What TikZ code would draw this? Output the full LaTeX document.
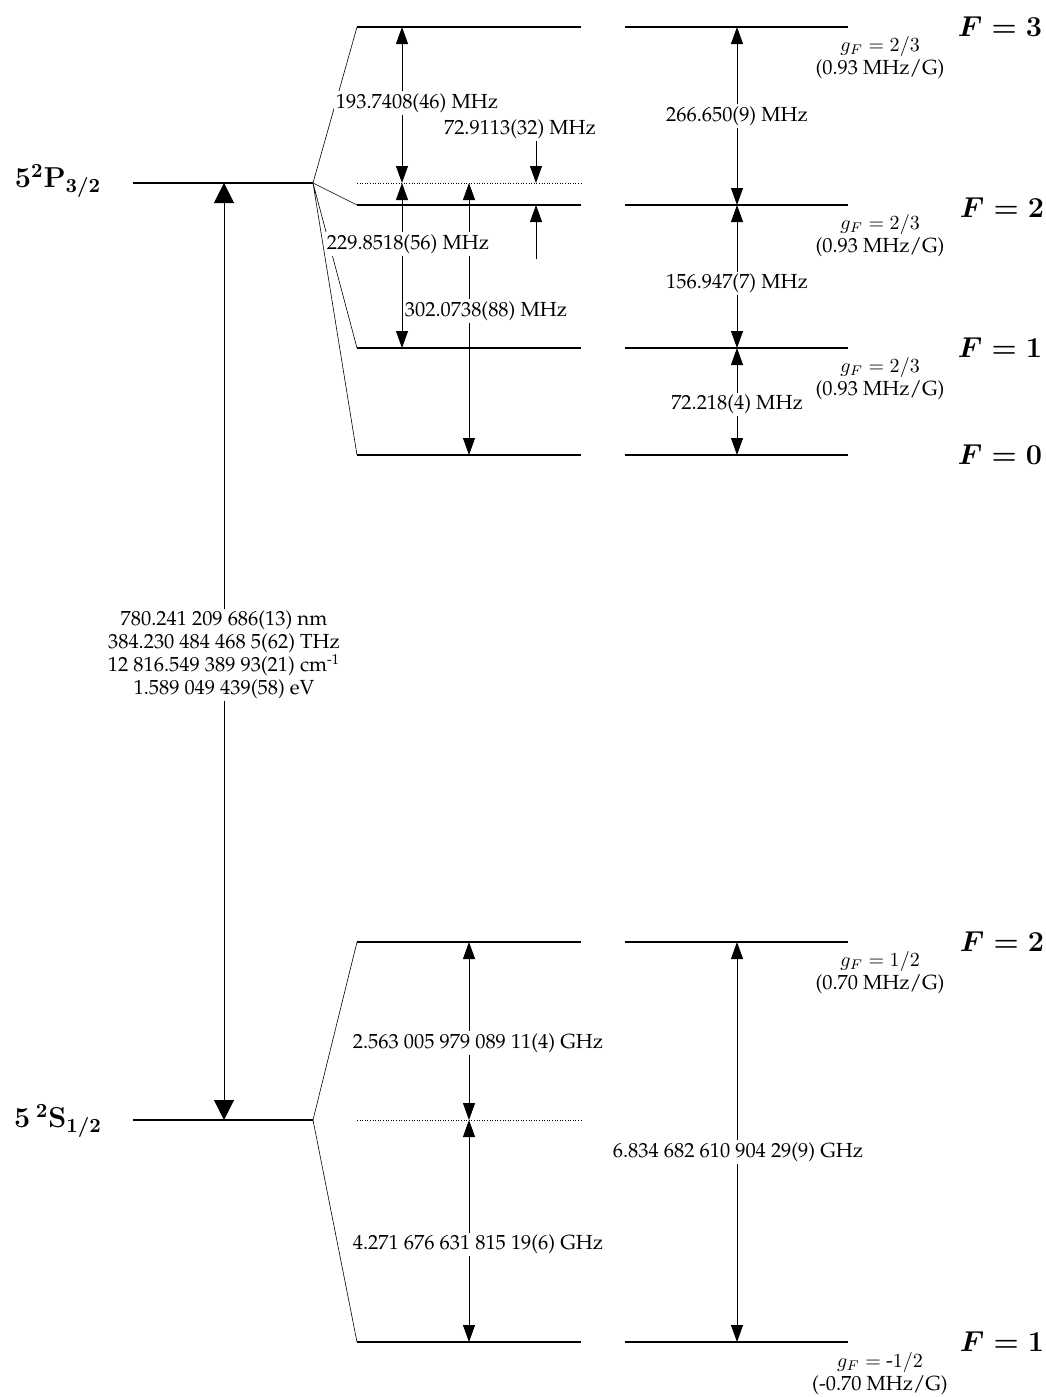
\documentclass[tikz,border=0pt]{standalone}
\usepackage[T1,TU]{fontenc}
\usetikzlibrary{arrows.meta}
\newcommand\palfont{\fontencoding{T1}\fontfamily{ppl}\fontsize{10.2}{11.5}\selectfont}
\tikzset{
  level/.style={line width=1pt},
  fan/.style={line width=0.3pt},
  cog/.style={densely dotted, line width=0.3pt},
  gap/.style={line width=0.45pt, {Triangle[length=8.5pt,width=6pt]}-{Triangle[length=8.5pt,width=6pt]}},
  push/.style={line width=0.45pt, -{Triangle[length=8.5pt,width=6pt]}},
  optical/.style={line width=0.5pt, {Triangle[length=10pt,width=10pt]}-{Triangle[length=10pt,width=10pt]}},
  val/.style={font=\palfont, fill=white, inner sep=1pt},
  gfac/.style={font=\palfont, align=center, inner sep=0pt},
  flab/.style={font=\Large\bfseries\boldmath},
  term/.style={font=\Large\bfseries\boldmath}
}
\begin{document}
\begin{tikzpicture}[x=0.5pt, y=-0.5pt]
\useasboundingbox (0,0) rectangle (1045,1397);
% colonne delle frecce
\coordinate (c0) at (224,0);
\coordinate (c1) at (402,0);
\coordinate (c2) at (469,0);
\coordinate (c3) at (536,0);
\coordinate (c4) at (737,0);

% livello 5P_{3/2}
\coordinate (P0) at (133,183);
\coordinate (Pf) at (313,183);
\draw[level] (P0) -- (Pf);
\node[term] (Pterm) at (58,181) {$5^2\mathrm{P}_{3/2}$};
\coordinate (Pc1) at (357,183);
\coordinate (Pc2) at (581,183);
\draw[cog] (Pc1) -- (Pc2); % baricentro

% struttura iperfine 5P_{3/2}
\coordinate (PL3) at (357,27);  \coordinate (PM3) at (581,27);
\coordinate (PR3) at (625,27);  \coordinate (PE3) at (848,27);
\coordinate (PL2) at (357,205); \coordinate (PM2) at (581,205);
\coordinate (PR2) at (625,205); \coordinate (PE2) at (848,205);
\coordinate (PL1) at (357,348); \coordinate (PM1) at (581,348);
\coordinate (PR1) at (625,348); \coordinate (PE1) at (848,348);
\coordinate (PL0) at (357,455); \coordinate (PM0) at (581,455);
\coordinate (PR0) at (625,455); \coordinate (PE0) at (848,455);
\draw[level] (PL3) -- (PM3); \draw[level] (PR3) -- (PE3);
\draw[level] (PL2) -- (PM2); \draw[level] (PR2) -- (PE2);
\draw[level] (PL1) -- (PM1); \draw[level] (PR1) -- (PE1);
\draw[level] (PL0) -- (PM0); \draw[level] (PR0) -- (PE0);
\draw[fan] (PL3) -- (Pf) -- (PL2);
\draw[fan] (PL1) -- (Pf) -- (PL0);

% separazioni dal baricentro
\draw[gap] (c1 |- PL3) -- (c1 |- Pc1);
\draw[gap] (c1 |- Pc1) -- (c1 |- PL1);
\draw[gap] (c2 |- Pc1) -- (c2 |- PL0);
\coordinate (t1) at (536,141);
\coordinate (t2) at (536,259);
\draw[push] (t1) -- (c3 |- Pc1);
\draw[push] (t2) -- (c3 |- PL2);
\node[val] (v1) at (417,103) {193.7408(46) MHz};
\node[val] (v2) at (520,129) {72.9113(32) MHz};
\node[val] (v3) at (408,244) {229.8518(56) MHz};
\node[val] (v4) at (486,311) {302.0738(88) MHz};

% separazioni iperfini
\draw[gap] (c4 |- PR3) -- (c4 |- PR2) node[val, pos=0.5] (v5) {266.650(9) MHz};
\draw[gap] (c4 |- PR2) -- (c4 |- PR1) node[val, pos=0.55] (v6) {156.947(7) MHz};
\draw[gap] (c4 |- PR1) -- (c4 |- PR0) node[val, pos=0.53] (v7) {72.218(4) MHz};

\node[gfac] (g3) at (880,58) {$g_F = 2/3$\\(0.93 MHz/G)};
\node[gfac] (g2) at (880,236) {$g_F = 2/3$\\(0.93 MHz/G)};
\node[gfac] (g1) at (880,379) {$g_F = 2/3$\\(0.93 MHz/G)};
\node[flab] (F3) at (1000,27) {$F = 3$};
\node[flab] (F2) at (1002,208) {$F = 2$};
\node[flab] (F1) at (1000,348) {$F = 1$};
\node[flab] (F0) at (1000,455) {$F = 0$};

% livello 5S_{1/2}
\coordinate (S0) at (133,1120);
\coordinate (Sf) at (313,1120);
\draw[level] (S0) -- (Sf);
\node[term] (Sterm) at (58,1121) {$5\,{}^2\mathrm{S}_{1/2}$};
\coordinate (Sc1) at (357,1120);
\coordinate (Sc2) at (581,1120);
\draw[cog] (Sc1) -- (Sc2);
\coordinate (SL2) at (357,942);  \coordinate (SM2) at (581,942);
\coordinate (SR2) at (625,942);  \coordinate (SE2) at (848,942);
\coordinate (SL1) at (357,1342); \coordinate (SM1) at (581,1342);
\coordinate (SR1) at (625,1342); \coordinate (SE1) at (848,1342);
\draw[level] (SL2) -- (SM2); \draw[level] (SR2) -- (SE2);
\draw[level] (SL1) -- (SM1); \draw[level] (SR1) -- (SE1);
\draw[fan] (SL2) -- (Sf) -- (SL1);

\draw[gap] (c2 |- SL2) -- (c2 |- Sc1);
\draw[gap] (c2 |- Sc1) -- (c2 |- SL1);
\draw[gap] (c4 |- SR2) -- (c4 |- SR1);
\node[val] (v8) at (478,1043) {2.563 005 979 089 11(4) GHz};
\node[val] (v9) at (478,1244) {4.271 676 631 815 19(6) GHz};
\node[val] (v10) at (738,1152) {6.834 682 610 904 29(9) GHz};

\node[gfac] (g5) at (880,973) {$g_F = 1/2$\\(0.70 MHz/G)};
\node[gfac] (g4) at (880,1374) {$g_F = $ -$1/2$\\(-0.70 MHz/G)};
\node[flab] (F5) at (1002,942) {$F = 2$};
\node[flab] (F4) at (1002,1342) {$F = 1$};

% transizione D2
\draw[optical] (c0 |- Pf) -- (c0 |- Sf);
\node[val, align=center] (D2) at (224,655) {780.241 209 686(13) nm\\384.230 484 468 5(62) THz\\12 816.549 389 93(21) cm\textsuperscript{-1}\\1.589 049 439(58) eV};
\end{tikzpicture}
\end{document}
